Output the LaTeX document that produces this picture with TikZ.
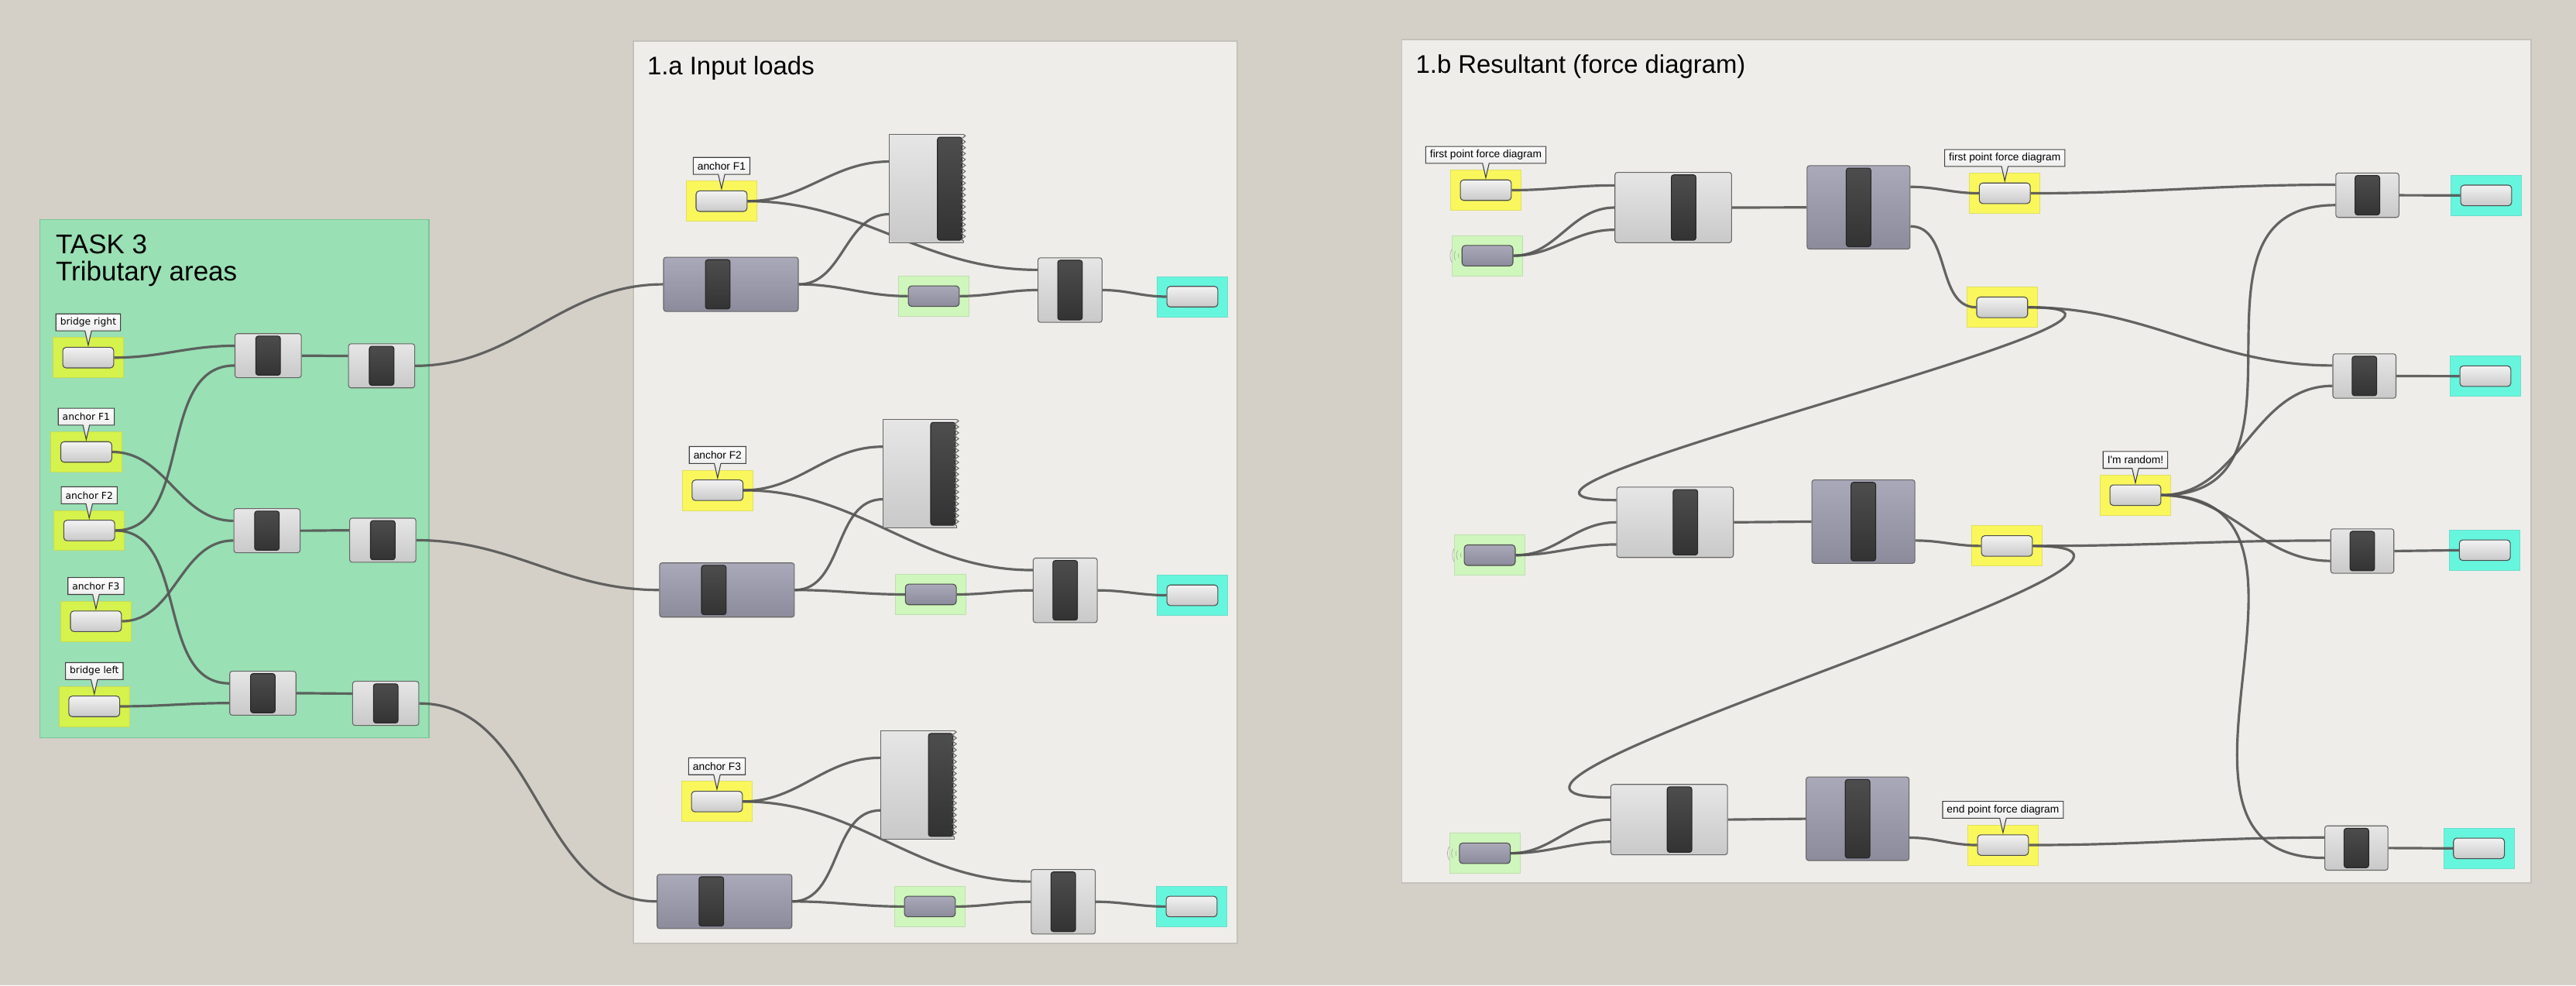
\documentclass[tikz,border=0pt]{standalone}
\usepackage{fontspec}
\setmainfont{Liberation Sans}
\newfontfamily\verdfont{DejaVu Sans}
\usetikzlibrary{positioning, calc, shapes.callouts, decorations.pathmorphing}

\definecolor{canvasc}{RGB}{212,208,200}
\definecolor{grpc}{RGB}{238,237,233}
\definecolor{grpedge}{RGB}{196,193,186}
\definecolor{taskc}{RGB}{153,224,180}
\definecolor{taskedge}{RGB}{122,196,152}
\definecolor{limec}{RGB}{214,242,76}
\definecolor{yelc}{RGB}{249,247,92}
\definecolor{mintc}{RGB}{207,246,188}
\definecolor{aquac}{RGB}{102,246,222}
\definecolor{wirec}{RGB}{84,84,84}
\definecolor{ctop}{RGB}{230,230,230}
\definecolor{cbot}{RGB}{201,201,201}
\definecolor{mtop}{RGB}{170,169,185}
\definecolor{mbot}{RGB}{140,139,155}
\definecolor{bartop}{RGB}{78,78,78}
\definecolor{barbot}{RGB}{50,50,50}

\tikzset{
  dims/.style 2 args={minimum width=#1pt, minimum height=#2pt, inner sep=0pt},
  pbox/.style={dims={43}{24.5}, fill=#1, draw=#1!80!gray, line width=0.4pt},
  btn/.style={dims={31}{12.5}, rounded corners=2pt, draw=black!70, line width=0.5pt, top color=ctop!50!white, bottom color=cbot},
  mbtn/.style={btn, top color=mtop, bottom color=mbot},
  bar/.style={draw=black!85, line width=0.5pt, rounded corners=1.5pt, top color=bartop, bottom color=barbot},
  comp/.style={draw=black!60, line width=0.5pt, rounded corners=1.5pt, top color=ctop, bottom color=cbot,
    path picture={\draw[bar] ($(path picture bounding box.north)+(#1-7.5pt,-1.5pt)$) rectangle ($(path picture bounding box.south)+(#1+7.5pt,1.5pt)$);}},
  comp/.default=0pt,
  mcomp/.style={comp=#1, top color=mtop, bottom color=mbot},
  mcomp/.default=0pt,
  pan/.style={comp=#1, draw=none},
  tip/.style={rectangle callout, callout relative pointer={(0pt,-8.75pt)}, callout pointer width=4pt,
    draw=black!75, line width=0.5pt, top color=white, bottom color=black!13,
    inner xsep=2.6pt, inner ysep=0pt, minimum height=10.3pt, font=\fontsize{6.5}{7}\selectfont},
  gtip/.style={tip, font=\verdfont\fontsize{5.8}{7}\selectfont},
  wire/.style={draw=wirec, line width=1.5pt, draw opacity=0.9},
  grp/.style={fill=grpc, draw=grpedge, line width=0.7pt},
  ttl/.style={anchor=base west, inner sep=0pt, font=\fontsize{15.5}{15.5}\selectfont},
  zz/.style={decorate, decoration={zigzag, amplitude=1.2pt, segment length=3.6pt}},
  edge/.style={draw=black!60, line width=0.5pt},
}

\begin{document}
\begin{tikzpicture}[x=1pt, y=-1pt]

\pgfdeclarelayer{bg}    % groups and parameter backgrounds
\pgfdeclarelayer{wires} % connectors sit under the components
\pgfsetlayers{bg,wires,main}

\useasboundingbox (0,0) rectangle (1568,599.5);

\begin{pgfonlayer}{bg}
\fill[canvasc] (0,0) rectangle (1568,599.5);
\draw[grp, fill=taskc, draw=taskedge] (24.2,133.5) rectangle (261,449);
\draw[grp] (385.4,25) rectangle (753.2,574);
\draw[grp] (853.2,24) rectangle (1540.6,537.3);

% TASK 3 parameters
\node (gBRb)[pbox=limec] at (53.7,217.6) {};
\node (gF1b)[pbox=limec] at (52.5,275) {};
\node (gF2b)[pbox=limec] at (54.3,322.8) {};
\node (gF3b)[pbox=limec] at (58.4,378) {};
\node (gBLb)[pbox=limec] at (57.4,429.8) {};

% 1.a parameters
\node (aF1b)[pbox=yelc] at (439.2,122.4) {};
\node (aG1b)[pbox=mintc] at (568.4,180.2) {};
\node (aC1b)[pbox=aquac] at (725.8,180.5) {};
\node (aF2b)[pbox=yelc] at (436.8,298.3) {};
\node (aG2b)[pbox=mintc] at (566.6,361.7) {};
\node (aC2b)[pbox=aquac] at (725.8,362.2) {};
\node (aF3b)[pbox=yelc] at (436.4,487.7) {};
\node (aG3b)[pbox=mintc] at (566,551.6) {};
\node (aC3b)[pbox=aquac] at (725.3,551.6) {};

% 1.b parameters
\node (bY1b)[pbox=yelc] at (904.4,115.7) {};
\node (bG1b)[pbox=mintc] at (905.4,155.6) {};
\node (bY2b)[pbox=yelc] at (1220.3,117.6) {};
\node (bY3b)[pbox=yelc] at (1218.7,187) {};
\node (bC1b)[pbox=aquac] at (1513.3,118.9) {};
\node (bRdb)[pbox=yelc] at (1299.8,301.3) {};
\node (bC2b)[pbox=aquac] at (1512.8,228.9) {};
\node (bG2b)[pbox=mintc] at (906.8,337.8) {};
\node (bY4b)[pbox=yelc] at (1221.6,332.2) {};
\node (bC3b)[pbox=aquac] at (1512.5,334.8) {};
\node (bG3b)[pbox=mintc] at (903.8,519.2) {};
\node (bY5b)[pbox=yelc] at (1219.2,514.2) {};
\node (bC4b)[pbox=aquac] at (1508.9,516.2) {};
\end{pgfonlayer}

% titles
\node (task)[anchor=base west, inner sep=0pt, font=\fontsize{16.5}{16.5}\selectfont] at (33.8,154.5) {TASK 3};
\node (trib)[anchor=base west, inner sep=0pt, font=\fontsize{16.5}{16.5}\selectfont] at (33.8,171) {Tributary areas};
\node (t1a)[ttl] at (393.8,45.4) {1.a Input loads};
\node (t1b)[ttl] at (861.6,44.4) {1.b Resultant (force diagram)};

% buttons
\node (gBR)[btn] at (gBRb) {};
\node (gF1)[btn] at (gF1b) {};
\node (gF2)[btn] at (gF2b) {};
\node (gF3)[btn] at (gF3b) {};
\node (gBL)[btn] at (gBLb) {};
\node (aF1)[btn] at (aF1b) {};
\node (aG1)[mbtn] at (aG1b) {};
\node (aC1)[btn] at (aC1b) {};
\node (aF2)[btn] at (aF2b) {};
\node (aG2)[mbtn] at (aG2b) {};
\node (aC2)[btn] at (aC2b) {};
\node (aF3)[btn] at (aF3b) {};
\node (aG3)[mbtn] at (aG3b) {};
\node (aC3)[btn] at (aC3b) {};
\node (bY1)[btn] at (bY1b) {};
\node (bG1)[mbtn] at (bG1b) {};
\node (bY2)[btn] at (bY2b) {};
\node (bY3)[btn] at (bY3b) {};
\node (bC1)[btn] at (bC1b) {};
\node (bRd)[btn] at (bRdb) {};
\node (bC2)[btn] at (bC2b) {};
\node (bG2)[mbtn] at (bG2b) {};
\node (bY4)[btn] at (bY4b) {};
\node (bC3)[btn] at (bC3b) {};
\node (bG3)[mbtn] at (bG3b) {};
\node (bY5)[btn] at (bY5b) {};
\node (bC4)[btn] at (bC4b) {};

% receiver rings
\foreach \g in {bG1,bG2,bG3}
  \foreach \r in {3,5.5,8}
    \draw[black!35, line width=0.3pt] ([xshift=1pt]\g.west) ++(150:\r) arc[start angle=150, end angle=210, radius=\r];

% callouts
\node (gBRt)[gtip, above=3.6pt of gBRb] {bridge right};
\node (gF1t)[gtip, above=3.6pt of gF1b] {anchor F1};
\node (gF2t)[gtip, above=3.6pt of gF2b] {anchor F2};
\node (gF3t)[gtip, above=3.6pt of gF3b] {anchor F3};
\node (gBLt)[gtip, above=3.6pt of gBLb] {bridge left};
\node (aF1t)[tip, above=3.6pt of aF1b] {anchor F1};
\node (aF2t)[tip, above=3.6pt of aF2b] {anchor F2};
\node (aF3t)[tip, above=3.6pt of aF3b] {anchor F3};
\node (bY1t)[tip, above=3.6pt of bY1b] {first point force diagram};
\node (bY2t)[tip, above=3.6pt of bY2b] {first point force diagram};
\node (bRdt)[tip, above=3.6pt of bRdb] {I\textquotesingle m random!};
\node (bY5t)[tip, above=3.6pt of bY5b] {end point force diagram};

% TASK 3 components
\node (c1)[comp, dims={40.3}{26.8}] at (163.2,216.4) {};
\node (c2)[comp, dims={40.3}{26.8}] at (232.3,222.6) {};
\node (c3)[comp, dims={40.3}{26.8}] at (162.5,322.9) {};
\node (c4)[comp, dims={40.3}{26.8}] at (233,328.7) {};
\node (c5)[comp, dims={40.3}{26.8}] at (160,421.8) {};
\node (c6)[comp, dims={40.3}{26.8}] at (234.8,428) {};

% 1.a components
\node (aM1)[mcomp=-8pt, dims={82}{33}] at (444.9,173) {};
\node (aP1)[pan=14.2pt, dims={44.5}{65.6}] at (563.9,114.8) {};
\node (aS1)[comp, dims={39}{39.3}] at (651.3,176.5) {};
\node (aM2)[mcomp=-8pt, dims={82}{33}] at (442.5,359) {};
\node (aP2)[pan=14.2pt, dims={44.5}{65.6}] at (559.8,288.3) {};
\node (aS2)[comp, dims={39}{39.3}] at (648.4,359.2) {};
\node (aM3)[mcomp=-8pt, dims={82}{33}] at (441,548.5) {};
\node (aP3)[pan=14.2pt, dims={44.5}{65.6}] at (558.4,477.6) {};
\node (aS3)[comp, dims={39}{39.3}] at (647.2,548.7) {};

\draw[edge] (aP1.north east) -- (aP1.north west) -- (aP1.south west) -- (aP1.south east);
\draw[edge, zz] (aP1.north east) -- (aP1.south east);
\draw[edge] (aP2.north east) -- (aP2.north west) -- (aP2.south west) -- (aP2.south east);
\draw[edge, zz] (aP2.north east) -- (aP2.south east);
\draw[edge] (aP3.north east) -- (aP3.north west) -- (aP3.south west) -- (aP3.south east);
\draw[edge, zz] (aP3.north east) -- (aP3.south east);

% 1.b components
\node (bA1)[comp=6.3pt, dims={71}{42.8}] at (1018.5,126.3) {};
\node (bB1)[mcomp, dims={62.7}{50.8}] at (1131.3,126.2) {};
\node (bA2)[comp=6.3pt, dims={71}{42.8}] at (1019.6,317.8) {};
\node (bB2)[mcomp, dims={62.7}{50.8}] at (1134.2,317.4) {};
\node (bA3)[comp=6.3pt, dims={71}{42.8}] at (1016,498.7) {};
\node (bB3)[mcomp, dims={62.7}{50.8}] at (1130.7,498.2) {};
\node (bR1)[comp, dims={38.4}{27}] at (1441,118.8) {};
\node (bR2)[comp, dims={38.4}{27}] at (1439.2,228.8) {};
\node (bR3)[comp, dims={38.4}{27}] at (1437.9,335.3) {};
\node (bR4)[comp, dims={38.4}{27}] at (1434.3,516) {};

\begin{pgfonlayer}{wires}
% TASK 3
\draw[wire] (gBR.east) to[out=0,in=180] ([yshift=6pt]c1.west);
\draw[wire] (gF2.east) to[out=0,in=180] ([yshift=-6pt]c1.west);
\draw[wire] (gF1.east) to[out=0,in=180] ([yshift=6pt]c3.west);
\draw[wire] (gF3.east) to[out=0,in=180] ([yshift=-6pt]c3.west);
\draw[wire] (gF2.east) to[out=0,in=180] ([yshift=6pt]c5.west);
\draw[wire] (gBL.east) to[out=0,in=180] ([yshift=-6pt]c5.west);
\draw[wire] (c1.east) to[out=0,in=180] ([yshift=6pt]c2.west);
\draw[wire] (c3.east) to[out=0,in=180] ([yshift=6pt]c4.west);
\draw[wire] (c5.east) to[out=0,in=180] ([yshift=6pt]c6.west);
\draw[wire] (c2.east) to[out=0,in=180] (aM1.west);
\draw[wire] (c4.east) to[out=0,in=180] (aM2.west);
\draw[wire] (c6.east) to[out=0,in=180] (aM3.west);

% 1.a
\draw[wire] (aF1.east) to[out=0,in=180] ([yshift=16.5pt]aP1.west);
\draw[wire] (aF1.east) to[out=0,in=180] ([yshift=12.3pt]aS1.west);
\draw[wire] (aM1.east) to[out=0,in=180] ([yshift=-15.5pt]aP1.west);
\draw[wire] (aM1.east) to[out=0,in=180] (aG1.west);
\draw[wire] (aG1.east) to[out=0,in=180] (aS1.west);
\draw[wire] (aS1.east) to[out=0,in=180] (aC1.west);
\draw[wire] (aF2.east) to[out=0,in=180] ([yshift=16.5pt]aP2.west);
\draw[wire] (aF2.east) to[out=0,in=180] ([yshift=12.3pt]aS2.west);
\draw[wire] (aM2.east) to[out=0,in=180] ([yshift=-15.5pt]aP2.west);
\draw[wire] (aM2.east) to[out=0,in=180] (aG2.west);
\draw[wire] (aG2.east) to[out=0,in=180] (aS2.west);
\draw[wire] (aS2.east) to[out=0,in=180] (aC2.west);
\draw[wire] (aF3.east) to[out=0,in=180] ([yshift=16.5pt]aP3.west);
\draw[wire] (aF3.east) to[out=0,in=180] ([yshift=12.3pt]aS3.west);
\draw[wire] (aM3.east) to[out=0,in=180] ([yshift=-15.5pt]aP3.west);
\draw[wire] (aM3.east) to[out=0,in=180] (aG3.west);
\draw[wire] (aG3.east) to[out=0,in=180] (aS3.west);
\draw[wire] (aS3.east) to[out=0,in=180] (aC3.west);

% 1.b
\draw[wire] (bY1.east) to[out=0,in=180] ([yshift=13.5pt]bA1.west);
\draw[wire] (bG1.east) to[out=0,in=180] (bA1.west);
\draw[wire] (bG1.east) to[out=0,in=180] ([yshift=-13.5pt]bA1.west);
\draw[wire] (bA1.east) -- (bB1.west);
\draw[wire] ([yshift=12.5pt]bB1.east) to[out=0,in=180] (bY2.west);
\draw[wire] ([yshift=-11.5pt]bB1.east) to[out=0,in=180] (bY3.west);
\draw[wire] (bY2.east) to[out=0,in=180] ([yshift=6.4pt]bR1.west);
\draw[wire] (bY3.east) to[out=0,in=180] ([yshift=6.4pt]bR2.west);
\draw[wire] (bY3.east) to[out=0,in=180,looseness=1.25] ([yshift=13.5pt]bA2.west);
\draw[wire] (bG2.east) to[out=0,in=180] (bA2.west);
\draw[wire] (bG2.east) to[out=0,in=180] ([yshift=-13.5pt]bA2.west);
\draw[wire] (bA2.east) -- (bB2.west);
\draw[wire] ([yshift=-11.5pt]bB2.east) to[out=0,in=180] (bY4.west);
\draw[wire] (bY4.east) to[out=0,in=180] ([yshift=6.4pt]bR3.west);
\draw[wire] (bY4.east) to[out=0,in=180,looseness=1.25] ([yshift=13.5pt]bA3.west);
\draw[wire] (bG3.east) to[out=0,in=180] (bA3.west);
\draw[wire] (bG3.east) to[out=0,in=180] ([yshift=-13.5pt]bA3.west);
\draw[wire] (bA3.east) -- (bB3.west);
\draw[wire] ([yshift=-11.5pt]bB3.east) to[out=0,in=180] (bY5.west);
\draw[wire] (bY5.east) to[out=0,in=180] ([yshift=6.4pt]bR4.west);
\draw[wire] (bRd.east) to[out=0,in=180,looseness=1.3] ([yshift=-6pt]bR1.west);
\draw[wire] (bRd.east) to[out=0,in=180] ([yshift=-6pt]bR2.west);
\draw[wire] (bRd.east) to[out=0,in=180] ([yshift=-6pt]bR3.west);
\draw[wire] (bRd.east) to[out=0,in=180,looseness=1.3] ([yshift=-6pt]bR4.west);
\draw[wire] (bR1.east) -- (bC1.west);
\draw[wire] (bR2.east) -- (bC2.west);
\draw[wire] (bR3.east) -- (bC3.west);
\draw[wire] (bR4.east) -- (bC4.west);
\end{pgfonlayer}

\end{tikzpicture}
\end{document}
